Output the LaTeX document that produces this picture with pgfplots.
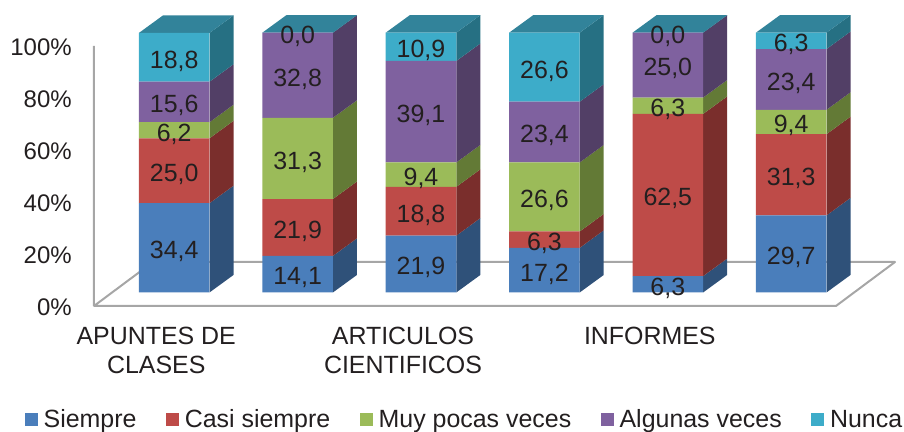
\documentclass[border=0pt]{standalone}
\usepackage{fontspec}
\setmainfont{Liberation Sans}
\usepackage{pgfplots}
\usepackage{pgfplotstable}
\pgfplotsset{compat=1.18}
\definecolor{cS}{HTML}{4A7EBB}\definecolor{cC}{HTML}{BE4B48}\definecolor{cM}{HTML}{9BBB59}\definecolor{cA}{HTML}{7F619F}\definecolor{cN}{HTML}{3DACC9}
\definecolor{dS}{HTML}{2F5179}\definecolor{dC}{HTML}{7A2E2C}\definecolor{dM}{HTML}{637A36}\definecolor{dA}{HTML}{523F66}\definecolor{dN}{HTML}{267083}
\definecolor{tN}{HTML}{32839A}\definecolor{txt}{HTML}{231F20}\definecolor{wall}{HTML}{A6A6A6}
\pgfplotstableread{
x s c m a n
0 34.4 25.0 6.2 15.6 18.8
1 14.1 21.9 31.3 32.8 0.001
2 21.9 18.8 9.4 39.1 10.9
3 17.2 6.3 26.6 23.4 26.6
4 6.3 62.5 6.3 25.0 0.001
5 29.7 31.3 9.4 23.4 6.3
}\datatab
\newcommand\txtfont{\fontsize{18.7pt}{21.75pt}\selectfont}
\newcommand\tickfont{\fontsize{18pt}{21.75pt}\selectfont}
\pgfplotsset{frame/.style={
  scale only axis,width=678pt,height=324pt,
  xmin=-1.4117,xmax=5.914,ymin=-53.76,ymax=112.7,clip=false}}
% one side face
\newcommand\sideface[4]{%
  \pgfmathsetmacro\xa{#1+0.286}\pgfmathsetmacro\xb{#1+0.4805}%
  \pgfmathsetmacro\ya{#2+6.74}\pgfmathsetmacro\yb{#3+6.74}%
  \edef\tmp{\noexpand\addplot[draw=none,fill=#4,forget plot] coordinates {(\xa,#2)(\xb,\ya)(\xb,\yb)(\xa,#3)} -- cycle;}\tmp}
% side faces and top of one column
\newcommand\columnsides[6]{%
  \pgfmathsetmacro\sa{#2}\pgfmathsetmacro\sb{\sa+#3}\pgfmathsetmacro\sc{\sb+#4}\pgfmathsetmacro\sd{\sc+#5}\pgfmathsetmacro\se{\sd+#6}%
  \sideface{#1}{0}{\sa}{dS}\sideface{#1}{\sa}{\sb}{dC}\sideface{#1}{\sb}{\sc}{dM}\sideface{#1}{\sc}{\sd}{dA}\sideface{#1}{\sd}{\se}{dN}%
  \pgfmathsetmacro\xl{#1-0.286}\pgfmathsetmacro\xr{#1+0.286}\pgfmathsetmacro\xR{#1+0.4805}\pgfmathsetmacro\xL{#1-0.0915}\pgfmathsetmacro\yt{\se+6.74}%
  \edef\tmp{\noexpand\addplot[draw=none,fill=tN,forget plot] coordinates {(\xl,\se)(\xr,\se)(\xR,\yt)(\xL,\yt)} -- cycle;}\tmp}
\begin{document}
\begin{tikzpicture}
\path[use as bounding box] (0,0) rectangle (678pt,324pt);
\begin{axis}[frame,hide axis]
\addplot[wall,line width=1.5pt,line join=round,forget plot] coordinates {(-0.650,95)(-0.650,-5.2)(5.363,-5.2)(5.841,11.75)(-0.172,11.75)(-0.650,-5.2)};
\columnsides{0}{34.4}{25.0}{6.2}{15.6}{18.8}
\columnsides{1}{14.1}{21.9}{31.3}{32.8}{0.0}
\columnsides{2}{21.9}{18.8}{9.4}{39.1}{10.9}
\columnsides{3}{17.2}{6.3}{26.6}{23.4}{26.6}
\columnsides{4}{6.3}{62.5}{6.3}{25.0}{0.0}
\columnsides{5}{29.7}{31.3}{9.4}{23.4}{6.3}
\end{axis}
\begin{axis}[frame,
  ybar stacked,bar width=52.9pt,
  axis line style={draw=none},tick style={draw=none},
  axis x line*=bottom,axis y line*=left,
  xtick={0,2,4},
  xticklabels={{APUNTES DE\\CLASES},{ARTICULOS\\CIENTIFICOS},{INFORMES}},
  ytick={0,20,40,60,80,100},
  yticklabels={0\%,20\%,40\%,60\%,80\%,100\%},
  xticklabel style={font=\txtfont,color=txt,align=center,anchor=north,inner sep=0pt,xshift=-13.5pt,yshift=79pt},
  yticklabel style={font=\tickfont,color=txt,anchor=east,inner sep=0pt,xshift=54pt,yshift=-10.7pt},
  point meta=rawy,
  nodes near coords={\pgfmathprintnumber[fixed,fixed zerofill,precision=1,use comma,assume math mode=true]{\pgfplotspointmeta}},
  every node near coord/.append style={font=\txtfont,color=txt,anchor=center,inner sep=0pt,yshift=-2.8pt},
  legend columns=5,
  legend image code/.code={\path[#1,draw=none] (0pt,-4.9pt) rectangle (9.75pt,4.9pt);},
  legend style={at={(18.5pt,1.5pt)},anchor=south west,draw=none,fill=none,font=\txtfont,text=txt,inner sep=0pt,outer sep=0pt,
    nodes={inner sep=0pt},
    /tikz/every odd column/.append style={column sep=4.5pt},
    /tikz/every even column/.append style={column sep=22pt}},
]
\addplot[draw=none,fill=cS] table[x=x,y=s]{\datatab};
\addplot[draw=none,fill=cC] table[x=x,y=c]{\datatab};
\addplot[draw=none,fill=cM] table[x=x,y=m]{\datatab};
\addplot[draw=none,fill=cA] table[x=x,y=a]{\datatab};
\addplot[draw=none,fill=cN] table[x=x,y=n]{\datatab};
\legend{Siempre,Casi siempre,Muy pocas veces,Algunas veces,Nunca}
\end{axis}
\end{tikzpicture}
\end{document}
